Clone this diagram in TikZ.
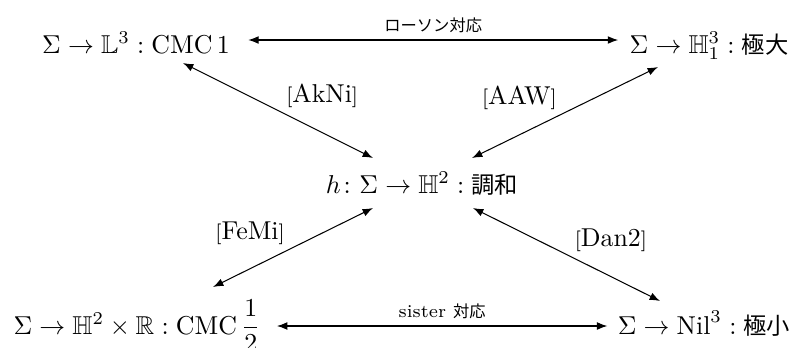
\documentclass[tikz,border=0pt]{standalone}
\usepackage{amsmath,amssymb}
\usepackage{fontspec}
\newfontfamily\jafont{Noto Sans CJK JP}[Scale=0.9]
\usetikzlibrary{arrows.meta}
\newcommand{\bref}[1]{{\footnotesize[}#1{\footnotesize]}}

\begin{document}
\begin{tikzpicture}[
  x=0.0136cm,y=-0.0136cm,
  target/.style={anchor=base,inner sep=0pt},
  corr/.style={{Latex[length=4pt,width=3pt]}-{Latex[length=4pt,width=3pt]},thin},
  corrlabel/.style={font=\scriptsize,inner sep=2.5pt},
  citelabel/.style={text depth=0pt,inner sep=3pt}
]
\useasboundingbox (0,0) rectangle (799,347);
% the five kinds of surfaces
\node[target] (lor)  at (136,53)  {$\Sigma\to\mathbb{L}^3:\mathrm{CMC}\,1$};
\node[target] (maxi) at (709,53)  {$\Sigma\to\mathbb{H}^3_1:\text{\jafont 極大}$};
\node[target] (harm) at (422,193) {$h\colon\Sigma\to\mathbb{H}^2:\text{\jafont 調和}$};
\node[target] (cmc)  at (137,334) {$\Sigma\to\mathbb{H}^2\times\mathbb{R}:\mathrm{CMC}\,\dfrac{1}{2}$};
\node[target] (mini) at (704,334) {$\Sigma\to\mathrm{Nil}^3:\text{\jafont 極小}$};
% correspondences
\draw[corr] ([shift={(18,-13)}]lor.base east) -- ([shift={(-11,-13)}]maxi.base west)
  node[corrlabel,midway,above] {\jafont ローソン対応};
\draw[corr] ([shift={(16,-8)}]cmc.base east) -- ([shift={(-10,-8)}]mini.base west)
  node[corrlabel,midway,above] {sister {\jafont 対応}};
\draw[corr] ([shift={(47,10)}]lor.base) -- ([shift={(-49,-35)}]harm.base)
  node[citelabel,midway,above right] {\bref{AkNi}};
\draw[corr] ([shift={(-51,14)}]maxi.base) -- ([shift={(50,-35)}]harm.base)
  node[citelabel,midway,above left] {\bref{AAW}};
\draw[corr] ([shift={(76,-47)}]cmc.base) -- ([shift={(-49,15)}]harm.base)
  node[citelabel,midway,above left] {\bref{FeMi}};
\draw[corr] ([shift={(-44,-33)}]mini.base) -- ([shift={(51,15)}]harm.base)
  node[citelabel,midway,above right] {\bref{Dan2}};
\end{tikzpicture}
\end{document}
